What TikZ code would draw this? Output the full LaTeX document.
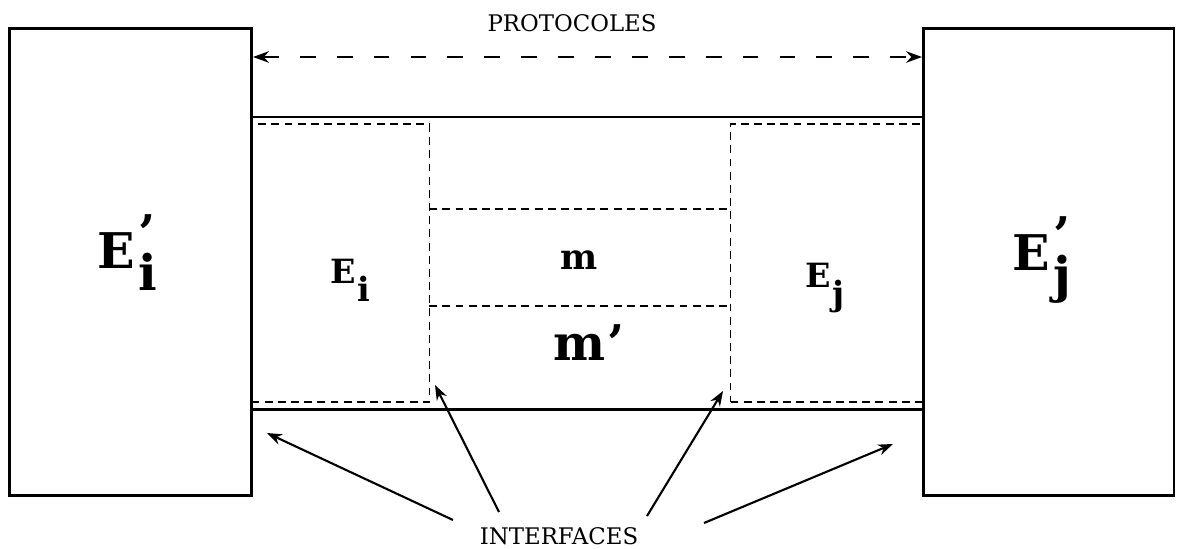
\documentclass[tikz,border=0pt]{standalone}
\usepackage{fontspec}
\setmainfont{DejaVu Serif}
\usetikzlibrary{arrows.meta}
\newcommand{\primesub}[2]{#1\kern0.08em\rlap{\raisebox{0.36em}{’}}\raisebox{-0.45em}{#2}}
\newcommand{\plainsub}[2]{#1\kern0.04em\raisebox{-0.55em}{#2}}
\tikzset{
  entity box/.style={
    rectangle, draw, line width=1.7pt, inner sep=0pt
  },
  layer box/.style={
    rectangle, draw, line width=1.1pt, inner sep=0pt,
    dash pattern=on 4.5pt off 3pt
  },
  link line/.style={line width=1.7pt},
  layer line/.style={line width=1.1pt, dash pattern=on 4.5pt off 3pt},
  big label/.style={font=\fontsize{28}{30}\selectfont\bfseries, anchor=base, inner sep=0pt},
  small label/.style={font=\fontsize{19}{21}\selectfont\bfseries, anchor=base, inner sep=0pt},
  caption text/.style={font=\fontsize{13}{15}\selectfont, anchor=base, inner sep=0pt},
  proto arrow/.style={
    {Stealth[length=3.2mm,width=2.3mm]}-{Stealth[length=3.2mm,width=2.3mm]},
    line width=1.1pt, dash pattern=on 9pt off 12pt
  },
  pointer arrow/.style={-{Stealth[length=3mm,width=2.2mm]}, line width=1.2pt}
}
\begin{document}
\begin{tikzpicture}[x=0.02cm, y=-0.02cm]
    \useasboundingbox (0,0) rectangle (1182,548);
    \node[entity box, minimum width=4.84cm, minimum height=9.35cm] (lbox) at (130.5,262.25) {};
    \node[entity box, minimum width=5.01cm, minimum height=9.35cm] (rbox) at (1048.75,262.25) {};
    \node[layer box, minimum width=3.56cm, minimum height=5.56cm] (eibox) at (340.5,263) {};
    \node[layer box, minimum width=3.86cm, minimum height=5.56cm] (ejbox) at (827,263) {};
    \node[inner sep=0pt, minimum width=6.02cm, minimum height=1.94cm] (mbox) at (580,257.5) {};
    \draw[layer line] (mbox.north west) -- (mbox.north east);
    \draw[layer line] (mbox.south west) -- (mbox.south east);
    \coordinate (upper) at (0,117);
    \coordinate (lower) at (0,409);
    \coordinate (protoy) at (0,57);
    \draw[link line] (lbox.east |- upper) -- (rbox.west |- upper);
    \draw[link line] (lbox.east |- lower) -- (rbox.west |- lower);
    \draw[proto arrow] (lbox.east |- protoy) -- (rbox.west |- protoy);
    \node[big label] (epi) at (127.5,268) {\primesub{E}{i}};
    \node[big label] (epj) at (1042,270) {\primesub{E}{j}};
    \node[small label] (ei) at (350,283) {\plainsub{E}{i}};
    \node[small label] (ej) at (825,287) {\plainsub{E}{j}};
    \node[font=\fontsize{20}{22}\selectfont\bfseries, anchor=base, inner sep=0pt] (m) at (579,269) {m};
    \node[big label] (mp) at (589,360) {m\kern0.05em’};
    \node[caption text] (proto) at (572,31) {PROTOCOLES};
    \node[caption text] (itf) at (559,544) {INTERFACES};
    \coordinate (tailA) at (453,520);
    \coordinate (tailB) at (499,512);
    \coordinate (tailC) at (647,516);
    \coordinate (tailD) at (704,523);
    \coordinate (hitA) at (267,433);
    \coordinate (hitB) at (435,385);
    \coordinate (hitC) at (723,391);
    \coordinate (hitD) at (893,444);
    \draw[pointer arrow] (tailA) -- (hitA);
    \draw[pointer arrow] (tailB) -- (hitB);
    \draw[pointer arrow] (tailC) -- (hitC);
    \draw[pointer arrow] (tailD) -- (hitD);
\end{tikzpicture}
\end{document}
